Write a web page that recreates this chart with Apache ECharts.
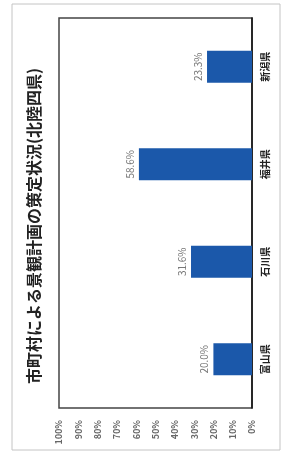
<!DOCTYPE html>
<html>
<head>
<meta charset="utf-8">
<script src="https://cdn.jsdelivr.net/npm/echarts@6/dist/echarts.min.js"></script>
<style>
  html, body { margin: 0; padding: 0; background: #fff; }
  #chart { width: 287px; height: 457px; }
</style>
</head>
<body>
<div id="chart"></div>
<script>
// chart is printed turned a quarter turn, so the bars run right-to-left
var titleText = "市町村による景観計画の策定状況(北陸四県)";
var prefectures = ["富山県", "石川県", "福井県", "新潟県"];
var rates = [20.0, 31.6, 58.6, 23.3];

var chart = echarts.init(document.getElementById("chart"));

var option = {
  backgroundColor: "#fff",
  animation: false,
  textStyle: { fontFamily: "Noto Sans CJK JP" },
  grid: {
    left: 59,
    right: 35,
    top: 18,
    bottom: 49,
    show: true,
    borderColor: "#444",
    borderWidth: 1.5,
  },
  xAxis: {
    type: "value",
    inverse: true,
    min: 0,
    max: 100,
    interval: 10,
    axisLine: { show: false },
    axisTick: { show: false },
    splitLine: { show: false },
    axisLabel: {
      formatter: "{value}%",
      rotate: 90,
      margin: 12,
      fontSize: 9,
      fontWeight: "bold",
      color: "#666",
    },
  },
  yAxis: {
    type: "category",
    position: "right",
    data: prefectures,
    axisLine: { show: true, lineStyle: { color: "#111", width: 1.5 } },
    axisTick: { show: false },
    axisLabel: {
      rotate: 90,
      margin: 8,
      fontSize: 10,
      fontWeight: "bold",
      color: "#222",
    },
  },
  series: [
    {
      type: "bar",
      data: rates,
      barWidth: 32,
      itemStyle: { color: "#1b58aa" },
      label: {
        show: true,
        position: "left",
        rotate: 90,
        align: "center",
        verticalAlign: "bottom",
        distance: 4,
        fontSize: 10,
        color: "#777",
        formatter: function (p) {
          return p.value.toFixed(1) + "%";
        },
      },
    },
  ],
  graphic: [
    {
      type: "rect",
      shape: { x: 12, y: 4, width: 268, height: 446 },
      style: { fill: "none", stroke: "#c4c4c4", lineWidth: 1 },
      silent: true,
    },
    {
      type: "text",
      x: 34,
      y: 226,
      rotation: Math.PI / 2,
      style: {
        text: titleText,
        fontSize: 16,
        fontWeight: "bold",
        fontFamily: "Noto Sans CJK JP",
        fill: "#222",
        textAlign: "center",
        textVerticalAlign: "middle",
      },
    },
  ],
};

chart.setOption(option);
</script>
</body>
</html>
